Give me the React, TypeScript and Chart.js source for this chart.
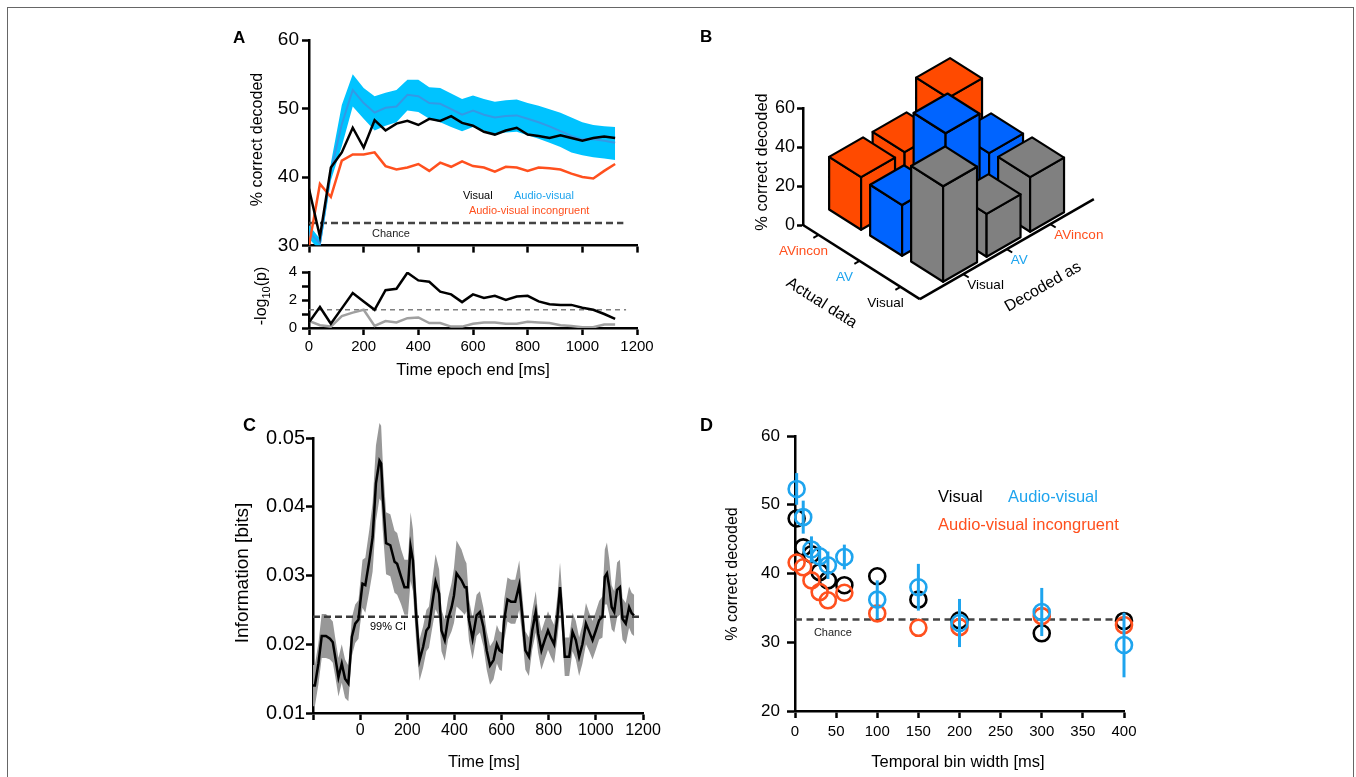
import React, { useEffect, useRef } from "react";
import { Chart, registerables } from "chart.js";

Chart.register(...registerables);

const FAMILY = "'Liberation Sans', Arial, Helvetica, sans-serif";

// ---------------- Panel A ----------------
const epochEnd = [0, 40, 80, 120, 160, 200, 240, 280, 320, 360, 400, 440, 480, 520, 560, 600, 640, 680, 720, 760, 800, 840, 880, 920, 960, 1000, 1040, 1080, 1120];
const visualCorrect = [38.3, 31.3, 41.4, 43.6, 47.2, 44.3, 48.3, 46.8, 47.8, 48.2, 47.6, 48.5, 48.2, 48.9, 47.9, 47.5, 46.6, 46.2, 46.8, 47.2, 46.2, 46.0, 45.7, 46.1, 45.7, 45.3, 45.7, 45.9, 45.7];
const avCorrect = [32.0, 30.3, 40.9, 47.7, 52.7, 50.8, 49.4, 50.1, 50.3, 52.0, 51.8, 50.8, 50.7, 49.9, 49.1, 49.7, 49.1, 48.7, 48.9, 49.0, 48.5, 48.0, 47.4, 46.7, 46.0, 45.5, 45.5, 45.3, 45.0];
const avUpper = [33.0, 31.0, 42.0, 50.5, 55.0, 53.0, 51.8, 52.3, 52.7, 54.2, 54.2, 53.1, 53.0, 52.2, 51.4, 51.9, 51.4, 51.0, 51.2, 51.3, 50.8, 50.4, 49.9, 49.4, 48.7, 48.0, 47.6, 47.4, 47.3];
const avLower = [31.0, 29.3, 39.5, 44.5, 50.3, 48.5, 46.8, 47.5, 48.0, 49.7, 49.5, 48.5, 48.0, 47.3, 46.7, 47.3, 46.8, 46.3, 46.5, 46.6, 46.1, 45.6, 45.0, 44.4, 43.6, 43.2, 42.9, 42.7, 42.5];
const avIncongCorrect = [30.0, 39.0, 37.1, 42.4, 43.3, 43.3, 43.6, 41.6, 41.1, 41.4, 41.9, 40.9, 42.1, 41.5, 42.3, 41.6, 41.4, 40.8, 41.5, 41.4, 40.9, 41.4, 41.3, 41.1, 40.5, 40.0, 39.8, 40.9, 41.9];
const chanceEpochX = [0, 1150];
const chanceLevel = 33.3;
const sigBlack = [0.4, 1.5, 0.3, 1.4, 2.5, 1.9, 1.3, 2.7, 2.8, 3.95, 3.4, 3.3, 2.6, 2.4, 1.85, 2.4, 2.15, 2.3, 2.0, 2.25, 2.3, 1.9, 1.7, 1.65, 1.65, 1.45, 1.3, 1.0, 0.65];
const sigGray = [0.5, 0.2, 0.1, 0.85, 1.1, 1.3, 0.15, 0.5, 0.4, 0.7, 0.75, 0.35, 0.35, 0.1, 0.1, 0.3, 0.4, 0.4, 0.3, 0.3, 0.45, 0.4, 0.35, 0.2, 0.15, 0.05, 0.05, 0.25, 0.25];
const sigLevel = 1.3;
const sigX = [0, 1160];

// ---------------- Panel B ----------------
const actualLabels = ["Visual", "AV", "AVincon"];
const decodedLabels = ["Visual", "AV", "AVincon"];
const confusionVisual = [49, 22, 28];
const confusionAV = [26, 50, 27];
const confusionAVincon = [27, 27, 42];

// ---------------- Panel C ----------------
const cTimes = [-200, -192, -177, -163, -145, -128, -116, -106, -92, -78, -64, -50, -35, -21, -7, 0, 10, 22, 39, 53, 67, 82, 89, 96, 110, 128, 146, 157, 174, 188, 203, 214, 224, 238, 252, 267, 281, 292, 306, 320, 335, 345, 359, 373, 388, 398, 409, 430, 444, 451, 462, 477, 494, 508, 523, 537, 551, 566, 580, 591, 601, 611, 625, 640, 658, 675, 687, 701, 716, 730, 745, 755, 769, 783, 797, 809, 823, 837, 848, 858, 868, 887, 901, 915, 929, 943, 958, 972, 986, 1000, 1014, 1028, 1038, 1047, 1057, 1067, 1078, 1090, 1102, 1113, 1127, 1141, 1152, 1162];
const cInfo = [0.0140, 0.0140, 0.0172, 0.0212, 0.0212, 0.0208, 0.0203, 0.0182, 0.0152, 0.0172, 0.0150, 0.0143, 0.0211, 0.0230, 0.0236, 0.0259, 0.0288, 0.0286, 0.0322, 0.0356, 0.0434, 0.0467, 0.0463, 0.0415, 0.0347, 0.0344, 0.0320, 0.0317, 0.0298, 0.0283, 0.0283, 0.0342, 0.0322, 0.0240, 0.0177, 0.0196, 0.0220, 0.0225, 0.0259, 0.0291, 0.0274, 0.0220, 0.0206, 0.0237, 0.0254, 0.0271, 0.0303, 0.0293, 0.0283, 0.0283, 0.0235, 0.0208, 0.0242, 0.0247, 0.0225, 0.0191, 0.0169, 0.0177, 0.0200, 0.0191, 0.0189, 0.0235, 0.0265, 0.0262, 0.0262, 0.0286, 0.0245, 0.0191, 0.0182, 0.0220, 0.0247, 0.0216, 0.0191, 0.0206, 0.0220, 0.0210, 0.0200, 0.0240, 0.0283, 0.0240, 0.0182, 0.0182, 0.0218, 0.0206, 0.0182, 0.0200, 0.0230, 0.0218, 0.0206, 0.0220, 0.0235, 0.0240, 0.0298, 0.0303, 0.0283, 0.0254, 0.0247, 0.0279, 0.0283, 0.0237, 0.0230, 0.0254, 0.0245, 0.0242];
const cErr = [0.0030, 0.0030, 0.0030, 0.0032, 0.0032, 0.0030, 0.0030, 0.0028, 0.0028, 0.0028, 0.0028, 0.0026, 0.0028, 0.0028, 0.0028, 0.0030, 0.0035, 0.0040, 0.0045, 0.0050, 0.0055, 0.0055, 0.0055, 0.0050, 0.0045, 0.0045, 0.0045, 0.0045, 0.0040, 0.0040, 0.0040, 0.0050, 0.0045, 0.0038, 0.0030, 0.0030, 0.0030, 0.0030, 0.0035, 0.0040, 0.0035, 0.0030, 0.0030, 0.0030, 0.0035, 0.0040, 0.0048, 0.0045, 0.0040, 0.0035, 0.0030, 0.0030, 0.0030, 0.0030, 0.0028, 0.0028, 0.0028, 0.0028, 0.0028, 0.0028, 0.0028, 0.0030, 0.0032, 0.0032, 0.0032, 0.0036, 0.0030, 0.0028, 0.0028, 0.0028, 0.0030, 0.0028, 0.0028, 0.0028, 0.0028, 0.0028, 0.0028, 0.0030, 0.0036, 0.0030, 0.0028, 0.0028, 0.0028, 0.0028, 0.0028, 0.0028, 0.0030, 0.0028, 0.0028, 0.0028, 0.0028, 0.0030, 0.0040, 0.0045, 0.0040, 0.0032, 0.0030, 0.0040, 0.0040, 0.0030, 0.0030, 0.0030, 0.0030, 0.0030];
const ciX = [-200, 1200];
const ciLevel = 0.024;

// ---------------- Panel D ----------------
const binWidths = [2, 10, 20, 30, 40, 60, 100, 150, 200, 300, 400];
const dVisual = [48.0, 43.8, 42.8, 40.2, 39.0, 38.3, 39.6, 36.2, 33.2, 31.3, 33.1];
const dAV = [52.3, 48.2, 43.5, 42.5, 41.2, 42.4, 36.2, 38.0, 32.8, 34.4, 29.6];
const dAVErr = [2.3, 2.4, 1.9, 1.5, 2.0, 1.8, 2.8, 3.4, 3.5, 3.5, 4.7];
const dAVincon = [41.6, 40.9, 39.0, 37.3, 36.1, 37.2, 34.2, 32.1, 32.2, 33.8, 32.5];
const dChanceX = [0, 400];

// ---------------- colours ----------------
const RED = "#FF501E";
const CYAN_TXT = "#1EA4EE";
const BAND = "#00C3FF";
const AV_LINE = "#3399E6";

const toXY = (xs: number[], ys: number[]) => xs.map((x, i) => ({ x, y: ys[i] }));

function linAxis(o: any) {
  return {
    type: "linear",
    min: o.min,
    max: o.max,
    offset: false,
    border: { display: true, color: "#000", width: 2.5 },
    grid: {
      display: true,
      drawOnChartArea: false,
      drawTicks: true,
      tickLength: o.tickLen ?? 7,
      tickColor: "#000",
      tickWidth: 2.5,
      color: "#000",
    },
    ticks: {
      stepSize: o.step,
      autoSkip: false,
      maxRotation: 0,
      minRotation: 0,
      color: "#000",
      padding: o.pad ?? 3,
      font: { family: FAMILY, size: o.size },
      callback: o.cb ?? ((v: number) => String(v)),
    },
    afterFit: (s: any) => {
      if (o.horizontal) s.height = o.fit;
      else s.width = o.fit;
    },
  };
}

type TextItem = {
  text: string;
  x: number;
  y: number;
  data?: boolean;
  size: number;
  color?: string;
  align?: CanvasTextAlign;
  rotate?: number;
};

function textPlugin(id: string, items: TextItem[]) {
  return {
    id,
    afterDraw(chart: any) {
      const ctx = chart.ctx;
      for (const it of items) {
        let px = it.x;
        let py = it.y;
        if (it.data) {
          px = chart.scales.x.getPixelForValue(it.x);
          py = chart.scales.y.getPixelForValue(it.y);
        }
        ctx.save();
        ctx.translate(px, py);
        if (it.rotate) ctx.rotate(it.rotate);
        ctx.font = `${it.size}px ${FAMILY}`;
        ctx.fillStyle = it.color || "#000";
        ctx.textAlign = it.align || "center";
        ctx.textBaseline = "middle";
        ctx.fillText(it.text, 0, 0);
        ctx.restore();
      }
    },
  };
}

const baseOptions = (padding: any) => ({
  animation: false,
  responsive: false,
  maintainAspectRatio: false,
  devicePixelRatio: 1,
  events: [],
  layout: { padding },
  plugins: { legend: { display: false }, tooltip: { enabled: false } },
  elements: { line: { tension: 0 }, point: { radius: 0 } },
});

const lineDs = (data: any[], color: string, width: number, extra: any = {}) => ({
  data,
  borderColor: color,
  backgroundColor: "transparent",
  borderWidth: width,
  pointRadius: 0,
  fill: false,
  tension: 0,
  ...extra,
});

function configA1(): any {
  return {
    type: "line",
    data: {
      datasets: [
        lineDs(toXY(epochEnd, visualCorrect), "#000", 2.5),
        lineDs(toXY(epochEnd, avIncongCorrect), RED, 2.5),
        lineDs(toXY(epochEnd, avCorrect), AV_LINE, 2),
        lineDs(toXY(epochEnd, avUpper), "transparent", 0, { fill: "+1", backgroundColor: BAND }),
        lineDs(toXY(epochEnd, avLower), "transparent", 0),
        lineDs(toXY(chanceEpochX, [chanceLevel, chanceLevel]), "#444", 2.5, { borderDash: [7, 4] }),
      ],
    },
    options: {
      ...baseOptions({ left: 0, top: 15, right: 23, bottom: 0 }),
      scales: {
        x: linAxis({ min: 0, max: 1200, step: 200, size: 15, fit: 13, horizontal: true, cb: () => "" }),
        y: linAxis({ min: 30, max: 60, step: 10, size: 19, fit: 109, horizontal: false, pad: 3 }),
      },
    },
    plugins: [
      textPlugin("a1txt", [
        { text: "% correct decoded", x: 58, y: 114.5, size: 16, rotate: -Math.PI / 2 },
        { text: "Visual", x: 563, y: 37.2, data: true, size: 11, align: "left" },
        { text: "Audio-visual", x: 750, y: 37.2, data: true, size: 11, align: "left", color: CYAN_TXT },
        { text: "Audio-visual incongruent", x: 585, y: 35.1, data: true, size: 11, align: "left", color: RED },
        { text: "Chance", x: 300, y: 31.75, data: true, size: 11, color: "#222" },
      ]),
    ],
  };
}

function configA2(): any {
  return {
    type: "line",
    data: {
      datasets: [
        lineDs(toXY(epochEnd, sigBlack), "#000", 2.5),
        lineDs(toXY(epochEnd, sigGray), "#A0A0A0", 2.5),
        lineDs(toXY(sigX, [sigLevel, sigLevel]), "#808080", 1.5, { borderDash: [5, 4] }),
      ],
    },
    options: {
      ...baseOptions({ left: 0, top: 11, right: 43, bottom: 0 }),
      scales: {
        x: linAxis({ min: 0, max: 1200, step: 200, size: 15, fit: 60, horizontal: true, pad: 3 }),
        y: linAxis({
          min: 0,
          max: 4,
          step: 1,
          size: 15,
          fit: 109,
          horizontal: false,
          pad: 5,
          cb: (v: number) => (v % 2 === 0 ? String(v) : ""),
        }),
      },
    },
    plugins: [
      textPlugin("a2txt", [{ text: "Time epoch end [ms]", x: 273, y: 112, size: 16.5 }]),
      {
        id: "logLabel",
        afterDraw(chart: any) {
          const ctx = chart.ctx;
          ctx.save();
          ctx.translate(60, 38);
          ctx.rotate(-Math.PI / 2);
          const big = `16px ${FAMILY}`;
          const small = `11px ${FAMILY}`;
          ctx.font = big;
          const w1 = ctx.measureText("-log").width;
          const w3 = ctx.measureText("(p)").width;
          ctx.font = small;
          const w2 = ctx.measureText("10").width;
          let x = -(w1 + w2 + w3) / 2;
          ctx.fillStyle = "#000";
          ctx.textAlign = "left";
          ctx.textBaseline = "alphabetic";
          ctx.font = big;
          ctx.fillText("-log", x, 6);
          x += w1;
          ctx.font = small;
          ctx.fillText("10", x, 10);
          x += w2;
          ctx.font = big;
          ctx.fillText("(p)", x, 6);
          ctx.restore();
        },
      },
    ],
  };
}

function configB(): any {
  const rows = [confusionVisual, confusionAV, confusionAVincon];
  const rowColors = ["#808080", "#0064FF", "#FF4A00"];
  const labelColors = ["#000", CYAN_TXT, RED];
  const bars3d = {
    id: "bars3d",
    afterDraw(chart: any) {
      const ctx = chart.ctx;
      const ys = chart.scales.y;
      const base = ys.getPixelForValue(0);
      const O = { x: chart.chartArea.left, y: base };
      const A = { x: 41, y: 26 };
      const D = { x: 43.5, y: -25 };
      const U = 2.85;
      const V = 4;
      const F = { x: O.x + U * A.x, y: O.y + U * A.y };
      const pt = (u: number, v: number, h = 0) => ({
        x: F.x - u * A.x + v * D.x,
        y: F.y - u * A.y + v * D.y - (base - ys.getPixelForValue(h)),
      });
      const seg = (p: any, q: any) => {
        ctx.beginPath();
        ctx.moveTo(p.x, p.y);
        ctx.lineTo(q.x, q.y);
        ctx.stroke();
      };
      ctx.save();
      ctx.lineJoin = "round";
      ctx.strokeStyle = "#000";
      ctx.lineWidth = 2.5;
      seg(O, F);
      seg(F, pt(0, V));
      ctx.lineWidth = 2;
      ctx.font = `13.5px ${FAMILY}`;
      ctx.textBaseline = "middle";
      actualLabels.forEach((lab, i) => {
        const u = 0.47 + i;
        const p = pt(u, 0);
        seg(p, pt(u, -0.12));
        ctx.fillStyle = labelColors[i];
        ctx.textAlign = "center";
        ctx.fillText(lab, p.x - 15, p.y + 16);
      });
      decodedLabels.forEach((lab, j) => {
        const v = 1 + j;
        const p = pt(0, v);
        seg(p, pt(-0.13, v));
        ctx.fillStyle = labelColors[j];
        ctx.textAlign = "left";
        ctx.fillText(lab, p.x + 4, p.y + 11.5);
      });
      ctx.fillStyle = "#000";
      ctx.font = `16px ${FAMILY}`;
      ctx.textAlign = "center";
      ctx.save();
      ctx.translate(O.x + 18.5, O.y + 78);
      ctx.rotate(Math.atan2(A.y, A.x));
      ctx.fillText("Actual data", 0, 0);
      ctx.restore();
      ctx.save();
      ctx.translate(O.x + 240, O.y + 62);
      ctx.rotate(Math.atan2(D.y, D.x));
      ctx.fillText("Decoded as", 0, 0);
      ctx.restore();

      const bars: any[] = [];
      rows.forEach((row, i) =>
        row.forEach((val, j) => bars.push({ u: 0.47 + i, v: 1 + j, h: val, color: rowColors[i] }))
      );
      bars.sort((a, b) => b.u + b.v - (a.u + a.v));
      const w = 0.39;
      ctx.lineWidth = 2.2;
      ctx.strokeStyle = "#000";
      const poly = (pts: any[], color: string) => {
        ctx.beginPath();
        ctx.moveTo(pts[0].x, pts[0].y);
        for (let k = 1; k < pts.length; k++) ctx.lineTo(pts[k].x, pts[k].y);
        ctx.closePath();
        ctx.fillStyle = color;
        ctx.fill();
        ctx.stroke();
      };
      for (const b of bars) {
        const fb = pt(b.u - w, b.v - w, 0);
        const lb = pt(b.u + w, b.v - w, 0);
        const rb = pt(b.u - w, b.v + w, 0);
        const ft = pt(b.u - w, b.v - w, b.h);
        const lt = pt(b.u + w, b.v - w, b.h);
        const rt = pt(b.u - w, b.v + w, b.h);
        const bt = pt(b.u + w, b.v + w, b.h);
        poly([lb, fb, ft, lt], b.color);
        poly([fb, rb, rt, ft], b.color);
        poly([ft, rt, bt, lt], b.color);
      }
      ctx.restore();
    },
  };
  return {
    type: "line",
    data: { datasets: [] },
    options: {
      ...baseOptions({ left: 0, top: 68, right: 0, bottom: 125 }),
      scales: {
        x: { type: "linear", display: false, min: 0, max: 1 },
        y: linAxis({ min: 0, max: 60, step: 20, size: 18, fit: 113, horizontal: false, pad: 2, tickLen: 6 }),
      },
    },
    plugins: [
      textPlugin("btxt", [{ text: "% correct decoded", x: 72, y: 122, size: 16.5, rotate: -Math.PI / 2 }]),
      bars3d,
    ],
  };
}

function configC(): any {
  const band = {
    id: "cBand",
    beforeDatasetsDraw(chart: any) {
      const ctx = chart.ctx;
      const xs = chart.scales.x;
      const ys = chart.scales.y;
      ctx.save();
      ctx.beginPath();
      cTimes.forEach((t, i) => {
        const x = xs.getPixelForValue(t);
        const y = ys.getPixelForValue(cInfo[i] + cErr[i]);
        if (i === 0) ctx.moveTo(x, y);
        else ctx.lineTo(x, y);
      });
      for (let i = cTimes.length - 1; i >= 0; i--) {
        ctx.lineTo(xs.getPixelForValue(cTimes[i]), ys.getPixelForValue(cInfo[i] - cErr[i]));
      }
      ctx.closePath();
      ctx.fillStyle = "#989898";
      ctx.fill();
      ctx.restore();
    },
  };
  return {
    type: "line",
    data: {
      datasets: [
        lineDs(toXY(cTimes, cInfo), "#000", 2.5, { clip: false }),
        lineDs(toXY(ciX, [ciLevel, ciLevel]), "#3a3a3a", 2.5, { borderDash: [7, 4] }),
      ],
    },
    options: {
      ...baseOptions({ left: 0, top: 38, right: 27, bottom: 0 }),
      scales: {
        x: linAxis({
          min: -200,
          max: 1200,
          step: 200,
          size: 16,
          fit: 64,
          horizontal: true,
          pad: 1,
          cb: (v: number) => (v < 0 ? "" : String(v)),
        }),
        y: linAxis({
          min: 0.01,
          max: 0.05,
          step: 0.01,
          size: 20,
          fit: 113,
          horizontal: false,
          pad: 1,
          cb: (v: number) => v.toFixed(2),
        }),
      },
    },
    plugins: [
      band,
      textPlugin("ctxt", [
        { text: "Information [bits]", x: 43, y: 173, size: 19, rotate: -Math.PI / 2 },
        { text: "Time [ms]", x: 284, y: 362, size: 16.5 },
        { text: "99% CI", x: 118, y: 0.0225, data: true, size: 11 },
      ]),
    ],
  };
}

function configD(): any {
  const errBars = {
    id: "errBars",
    afterDatasetsDraw(chart: any) {
      const ctx = chart.ctx;
      const xs = chart.scales.x;
      const ys = chart.scales.y;
      ctx.save();
      ctx.strokeStyle = CYAN_TXT;
      ctx.lineWidth = 3;
      binWidths.forEach((b, i) => {
        const x = xs.getPixelForValue(b);
        ctx.beginPath();
        ctx.moveTo(x, ys.getPixelForValue(dAV[i] - dAVErr[i]));
        ctx.lineTo(x, ys.getPixelForValue(dAV[i] + dAVErr[i]));
        ctx.stroke();
      });
      ctx.restore();
    },
  };
  const pts = (data: any[], color: string) => ({
    data,
    borderColor: color,
    backgroundColor: "rgba(0,0,0,0)",
    pointRadius: 8,
    pointHoverRadius: 8,
    pointBorderWidth: 2.6,
    borderWidth: 2.6,
    showLine: false,
    clip: false,
  });
  return {
    type: "scatter",
    data: {
      datasets: [
        pts(toXY(binWidths, dAV), CYAN_TXT),
        pts(toXY(binWidths, dAVincon), RED),
        pts(toXY(binWidths, dVisual), "#000"),
        {
          data: toXY(dChanceX, [chanceLevel, chanceLevel]),
          showLine: true,
          borderColor: "#444",
          borderWidth: 2.5,
          borderDash: [7, 4.5],
          pointRadius: 0,
          clip: false,
        },
      ],
    },
    options: {
      ...baseOptions({ left: 0, top: 36, right: 36, bottom: 0 }),
      scales: {
        x: linAxis({ min: 0, max: 400, step: 50, size: 15, fit: 66, horizontal: true, pad: 5 }),
        y: linAxis({ min: 20, max: 60, step: 10, size: 17, fit: 105, horizontal: false, pad: 7, tickLen: 8 }),
      },
    },
    plugins: [
      errBars,
      textPlugin("dtxt", [
        { text: "% correct decoded", x: 43, y: 174, size: 16, rotate: -Math.PI / 2 },
        { text: "Temporal bin width [ms]", x: 268, y: 362, size: 16.5 },
        { text: "Visual", x: 174, y: 51.1, data: true, size: 16.5, align: "left" },
        { text: "Audio-visual", x: 259, y: 51.1, data: true, size: 16.5, align: "left", color: CYAN_TXT },
        { text: "Audio-visual incongruent", x: 174, y: 47.05, data: true, size: 16.5, align: "left", color: RED },
        { text: "Chance", x: 46, y: 31.35, data: true, size: 11, color: "#222" },
      ]),
    ],
  };
}

const letter = (t: string, left: number, top: number, size: number) => (
  <div
    style={{
      position: "absolute",
      left,
      top,
      font: `bold ${size}px ${FAMILY}`,
      lineHeight: `${size}px`,
      color: "#000",
    }}
  >
    {t}
  </div>
);

export default function App() {
  const a1 = useRef<HTMLCanvasElement>(null);
  const a2 = useRef<HTMLCanvasElement>(null);
  const b = useRef<HTMLCanvasElement>(null);
  const c = useRef<HTMLCanvasElement>(null);
  const d = useRef<HTMLCanvasElement>(null);

  useEffect(() => {
    const charts: Chart[] = [];
    charts.push(new Chart(a1.current as HTMLCanvasElement, configA1()));
    charts.push(new Chart(a2.current as HTMLCanvasElement, configA2()));
    charts.push(new Chart(b.current as HTMLCanvasElement, configB()));
    charts.push(new Chart(c.current as HTMLCanvasElement, configC()));
    charts.push(new Chart(d.current as HTMLCanvasElement, configD()));
    return () => charts.forEach((ch) => ch.destroy());
  }, []);

  const cv = (left: number, top: number, w: number, h: number) => ({
    position: "absolute" as const,
    left,
    top,
    width: w,
    height: h,
  });

  return (
    <div
      style={{
        position: "absolute",
        left: 0,
        top: 0,
        width: 1356,
        height: 777,
        background: "#fff",
        overflow: "hidden",
        fontFamily: FAMILY,
      }}
    >
      <div
        style={{
          position: "absolute",
          left: 7,
          top: 7,
          width: 1347,
          height: 820,
          border: "1px solid #666",
          boxSizing: "border-box",
        }}
      />
      <canvas ref={a1} width={460} height={235} style={cv(200, 25, 460, 235)} />
      <canvas ref={a2} width={480} height={130} style={cv(200, 258, 480, 130)} />
      <canvas ref={b} width={440} height={310} style={cv(690, 40, 440, 310)} />
      <canvas ref={c} width={470} height={377} style={cv(200, 400, 470, 377)} />
      <canvas ref={d} width={470} height={377} style={cv(690, 400, 470, 377)} />
      {letter("A", 233, 29, 17)}
      {letter("B", 700, 28, 17)}
      {letter("C", 243, 416, 18)}
      {letter("D", 700, 416, 18)}
    </div>
  );
}
